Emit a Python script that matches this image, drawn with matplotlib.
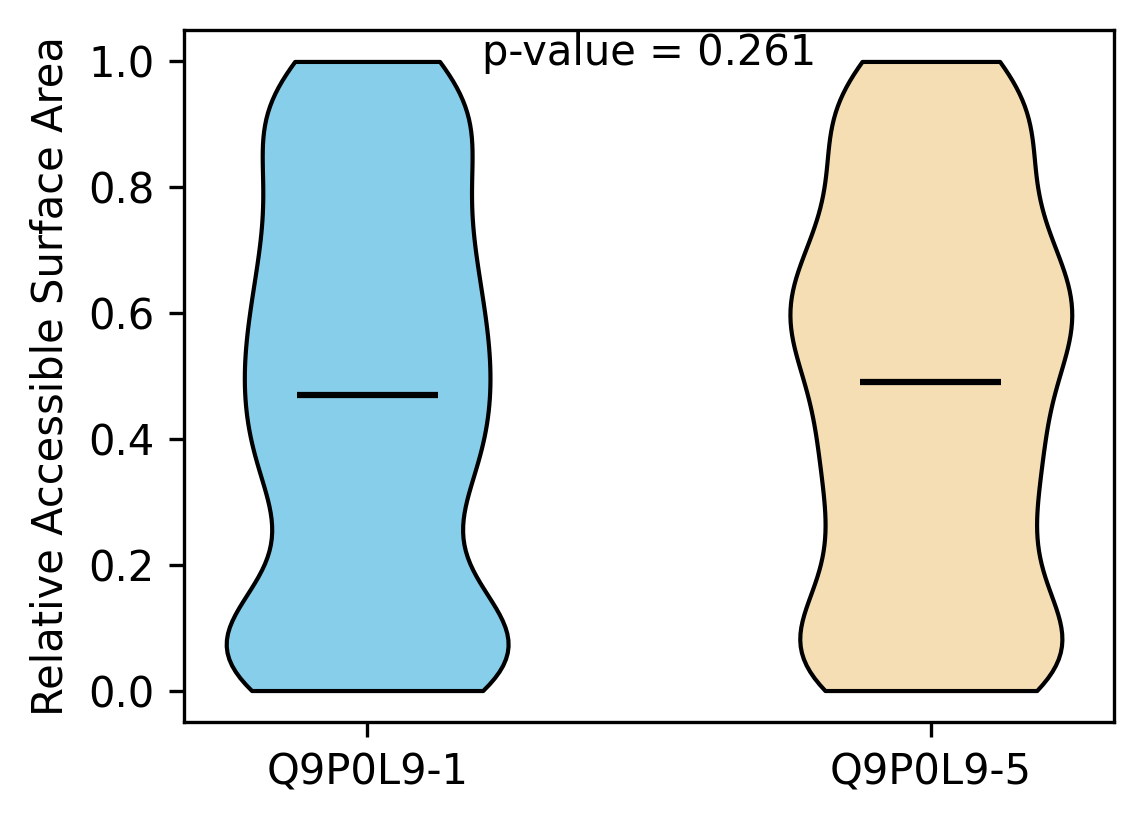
import matplotlib
matplotlib.use("Agg")
import matplotlib.pyplot as plt

labels = ["Q9P0L9-1", "Q9P0L9-5"]
colors = ["skyblue", "wheat"]
p_value = 0.261

rsa_iso1 = [0.0, 0.0, 0.01, 0.03, 0.04, 0.05, 0.06, 0.07, 0.08, 0.09, 0.10, 0.11,
            0.15, 0.19,
            0.25, 0.29,
            0.31, 0.33, 0.36, 0.38, 0.40, 0.42, 0.44,
            0.47, 0.49, 0.51, 0.53, 0.55, 0.57, 0.59,
            0.62, 0.645, 0.67, 0.69, 0.715, 0.74,
            0.77, 0.80, 0.83, 0.86, 0.89, 0.91, 0.92, 0.94,
            0.97, 1.0, 1.0]

rsa_iso5 = [0.0, 0.0, 0.01, 0.03, 0.04, 0.05, 0.06, 0.07, 0.08, 0.10,
            0.14, 0.17, 0.19,
            0.22, 0.24, 0.28,
            0.31, 0.33, 0.35, 0.37, 0.39, 0.42, 0.44,
            0.47, 0.49, 0.52, 0.54, 0.56, 0.575, 0.59, 0.60, 0.615, 0.63, 0.65,
            0.66, 0.69, 0.71, 0.74, 0.76, 0.79,
            0.82, 0.85, 0.88, 0.90, 0.92, 0.94,
            0.97, 1.0, 1.0]

fig = plt.figure(figsize=(1144/300, 824/300), dpi=300)
ax = fig.add_axes([0.1608, 0.1238, 0.8130, 0.8398])

parts = ax.violinplot([rsa_iso1, rsa_iso5], positions=[1, 2], widths=0.5,
                      showmedians=True, showextrema=False, bw_method=0.3)
for body, c in zip(parts["bodies"], colors):
    body.set_facecolor(c)
    body.set_edgecolor("black")
    body.set_linewidth(1)
    body.set_alpha(1)
parts["cmedians"].set_color("black")
parts["cmedians"].set_linewidth(1.5)

ax.set_xticks([1, 2])
ax.set_xticklabels(labels)
ax.set_ylabel("Relative Accessible Surface Area")
ax.text(1.5, 1.014, "p-value = " + str(p_value), ha="center", va="center")

fig.savefig("out.png", dpi=300)
